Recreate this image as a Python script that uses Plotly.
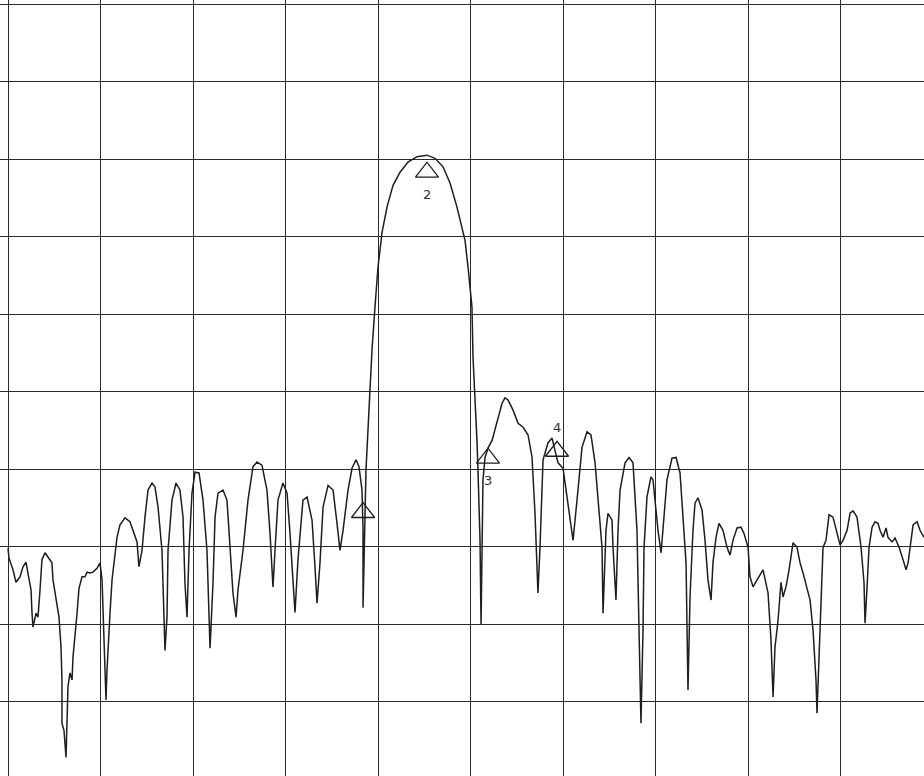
import plotly.graph_objects as go

# Spectrum trace: frequency in screen divisions (0..10), level in dB (10 dB/div, top line = 0 dB)
freq_div = [
    0.000, 0.011, 0.054, 0.086, 0.130, 0.162, 0.194, 0.216, 0.249, 0.259,
    0.270, 0.303, 0.324, 0.346, 0.367, 0.400, 0.432, 0.475, 0.486, 0.529,
    0.551, 0.573, 0.583, 0.583, 0.605, 0.627, 0.637, 0.648, 0.670, 0.692,
    0.702, 0.724, 0.746, 0.767, 0.800, 0.832, 0.854, 0.886, 0.918, 0.962,
    0.994, 1.016, 1.027, 1.048, 1.059, 1.070, 1.081, 1.102, 1.124, 1.156,
    1.178, 1.210, 1.264, 1.318, 1.351, 1.394, 1.415, 1.448, 1.480, 1.513,
    1.556, 1.588, 1.621, 1.664, 1.696, 1.718, 1.729, 1.772, 1.815, 1.858,
    1.891, 1.912, 1.934, 1.956, 1.988, 2.021, 2.064, 2.107, 2.150, 2.183,
    2.215, 2.237, 2.269, 2.323, 2.366, 2.399, 2.431, 2.464, 2.485, 2.539,
    2.593, 2.647, 2.690, 2.744, 2.798, 2.831, 2.863, 2.885, 2.917, 2.971,
    3.015, 3.047, 3.079, 3.101, 3.133, 3.187, 3.231, 3.285, 3.317, 3.339,
    3.371, 3.404, 3.458, 3.512, 3.555, 3.587, 3.620, 3.674, 3.717, 3.760,
    3.792, 3.825, 3.836, 3.836,
    # main lobe
    3.868, 3.901, 3.933, 3.965, 3.998, 4.041, 4.095, 4.160, 4.236, 4.322,
    4.419, 4.527, 4.614, 4.700, 4.776, 4.851, 4.905, 4.938, 4.970, 5.013,
    5.024, 5.046, 5.067, 5.078, 5.100, 5.111,
    # upper sidebands
    5.132, 5.154, 5.186, 5.230, 5.284, 5.338, 5.370, 5.403, 5.457, 5.511,
    5.565, 5.619, 5.662, 5.694, 5.726, 5.748, 5.781, 5.835, 5.878, 5.911,
    5.943, 5.997, 6.040, 6.073, 6.105, 6.148, 6.202, 6.256, 6.299, 6.343,
    6.375, 6.418, 6.429, 6.461, 6.483, 6.526, 6.537, 6.569, 6.591, 6.613,
    6.667, 6.710, 6.753, 6.796, 6.818, 6.839, 6.861, 6.872, 6.904, 6.947,
    6.969, 7.002, 7.023, 7.056, 7.077, 7.120, 7.174, 7.218, 7.261, 7.293,
    7.326, 7.347, 7.369, 7.401, 7.423, 7.455, 7.499, 7.531, 7.563, 7.596,
    7.617, 7.650, 7.682, 7.725, 7.769, 7.801, 7.833, 7.877, 7.920, 7.952,
    7.996, 8.017, 8.050, 8.093, 8.125, 8.158, 8.212, 8.244, 8.266, 8.287,
    8.320, 8.352, 8.374, 8.406, 8.439, 8.482, 8.525, 8.558, 8.590, 8.633,
    8.666, 8.698, 8.730, 8.741, 8.763, 8.784, 8.806, 8.838, 8.871, 8.914,
    8.957, 8.990, 9.022, 9.066, 9.098, 9.130, 9.173, 9.217, 9.249, 9.260,
    9.282, 9.303, 9.336, 9.368, 9.400, 9.422, 9.454, 9.487, 9.508, 9.552,
    9.584, 9.628, 9.671, 9.703, 9.725, 9.757, 9.779, 9.822, 9.854, 9.897,
]

level_db = [
    -70.2, -71.5, -73.0, -74.6, -73.9, -72.6, -72.0, -73.4, -75.6, -78.5,
    -80.4, -78.6, -79.1, -75.6, -71.7, -70.8, -71.4, -72.1, -74.3, -77.3,
    -79.1, -83.0, -87.2, -92.8, -93.7, -97.2, -92.8, -88.1, -86.3, -87.2,
    -84.3, -80.8, -78.6, -75.4, -73.9, -73.9, -73.3, -73.4, -73.3, -72.8,
    -72.1, -74.3, -78.6, -85.0, -89.8, -85.9, -83.0, -78.6, -74.3, -71.4,
    -68.8, -67.2, -66.3, -66.8, -67.9, -69.4, -72.6, -70.5, -66.2, -62.7,
    -61.8, -62.3, -64.9, -70.5, -83.4, -79.1, -70.5, -64.0, -61.8, -62.7,
    -66.2, -74.7, -79.1, -70.5, -63.1, -60.4, -60.5, -64.0, -70.5, -83.1,
    -74.7, -66.2, -63.1, -62.7, -64.0, -70.5, -76.0, -79.1, -75.6, -70.5,
    -64.0, -59.7, -59.1, -59.5, -62.7, -68.3, -75.2, -70.5, -64.0, -61.8,
    -63.1, -68.3, -73.9, -78.5, -71.7, -64.0, -63.6, -66.6, -72.6, -77.3,
    -72.1, -64.9, -62.1, -62.7, -67.0, -70.5, -67.9, -62.7, -59.9, -58.8,
    -59.7, -62.7, -67.9, -77.9,
    # main lobe
    -60.1, -51.1, -44.6, -39.1, -33.9, -29.5, -26.2, -23.4, -21.7, -20.4,
    -19.7, -19.5, -19.9, -21.0, -23.1, -26.2, -28.8, -30.5, -33.9, -39.1,
    -45.5, -50.2, -56.3, -60.1, -69.2, -80.1,
    # upper sidebands
    -61.4, -58.5, -57.3, -56.3, -53.7, -51.5, -50.8, -51.1, -52.4, -54.1,
    -54.6, -55.6, -58.5, -65.7, -76.0, -70.1, -58.8, -56.6, -56.0, -57.5,
    -59.2, -59.9, -63.6, -67.0, -69.2, -64.0, -57.2, -55.2, -55.6, -59.2,
    -63.6, -70.1, -78.6, -67.9, -65.7, -66.6, -70.1, -76.9, -67.9, -62.7,
    -59.2, -58.5, -59.2, -67.9, -80.8, -92.8, -80.8, -70.1, -63.6, -61.0,
    -61.4, -65.7, -67.9, -70.8, -67.9, -61.4, -58.6, -58.5, -60.5, -65.7,
    -72.1, -88.5, -76.5, -67.9, -64.4, -63.7, -65.3, -69.2, -74.3, -76.9,
    -72.1, -68.8, -67.0, -67.9, -70.1, -71.1, -69.2, -67.6, -67.5, -68.3,
    -70.1, -73.9, -75.2, -74.3, -73.7, -73.0, -76.0, -82.1, -89.4, -83.0,
    -79.5, -74.6, -76.5, -75.2, -73.0, -69.5, -70.1, -72.1, -73.4, -75.6,
    -76.9, -80.8, -87.2, -91.5, -85.0, -78.6, -70.1, -69.2, -65.9, -66.2,
    -68.3, -69.8, -69.2, -67.9, -65.7, -65.4, -66.2, -70.1, -74.7, -79.9,
    -75.2, -70.1, -67.5, -66.8, -67.0, -67.9, -68.8, -67.6, -68.8, -69.4,
    -68.9, -70.1, -71.7, -73.0, -72.1, -68.8, -67.2, -66.8, -67.9, -68.8,
]

# Marker triangles and their labels
marker_freq = [3.836, 4.527, 5.186, 5.932]
marker_level = [-65.6, -21.7, -58.6, -57.7]
marker_labels = ["", "2", "3", "4"]
marker_label_shift = [0, -22, -22, 24]

INK = "#1e1e1e"

fig = go.Figure()
fig.add_trace(go.Scatter(
    x=freq_div, y=level_db, mode="lines",
    line=dict(color=INK, width=1.5),
    hoverinfo="skip",
))
fig.add_trace(go.Scatter(
    x=marker_freq, y=marker_level, mode="markers",
    marker=dict(symbol="triangle-up-open", size=20, color=INK,
                line=dict(color=INK, width=1.3)),
    hoverinfo="skip",
))
for fx, lv, lab, sh in zip(marker_freq, marker_level, marker_labels, marker_label_shift):
    if lab:
        fig.add_annotation(x=fx, y=lv, text=lab, showarrow=False, yshift=sh,
                           font=dict(family="DejaVu Sans", size=13, color="#333333"))

grid_style = dict(showgrid=True, gridcolor="#2b2b2b", gridwidth=1.1,
                  zeroline=True, zerolinecolor="#2b2b2b", zerolinewidth=1.1,
                  showticklabels=False, ticks="", showline=False)

fig.update_xaxes(range=[-0.0864, 9.897], dtick=1, tick0=0, **grid_style)
fig.update_yaxes(range=[-99.6, 0.52], dtick=10, tick0=0, **grid_style)

fig.update_layout(
    width=924, height=776,
    margin=dict(l=0, r=0, t=0, b=0),
    paper_bgcolor="white", plot_bgcolor="white",
    showlegend=False,
)

fig.write_html(
    "out.html",
    config={"displayModeBar": False},
    post_script="document.body.style.margin='0';document.body.style.overflow='hidden';",
)
